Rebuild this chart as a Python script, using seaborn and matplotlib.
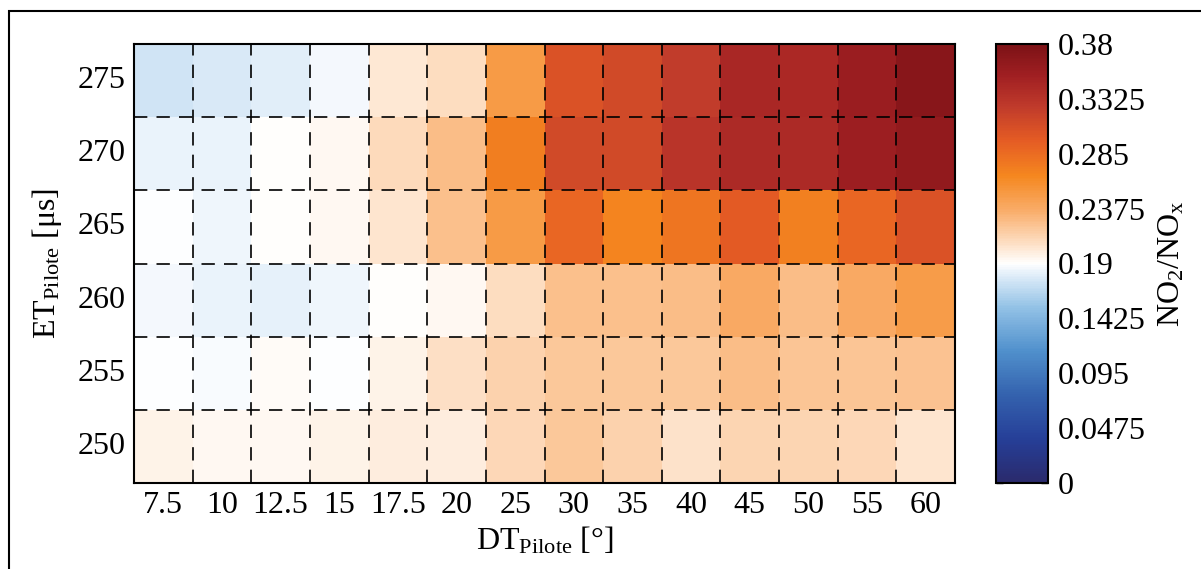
import numpy as np
import pandas as pd
import seaborn as sns
import matplotlib
matplotlib.use("Agg")
import matplotlib.pyplot as plt
from matplotlib.colors import LinearSegmentedColormap
from matplotlib.patches import Rectangle

# Pilot injection timing (DT) and energizing time (ET) grid
dt_labels = ["7.5", "10", "12.5", "15", "17.5", "20", "25", "30",
             "35", "40", "45", "50", "55", "60"]
et_labels = ["275", "270", "265", "260", "255", "250"]

# NO2/NOx ratio, one list per ET row
ratio_275 = [0.175, 0.178, 0.180, 0.187, 0.202, 0.208, 0.250, 0.305, 0.312, 0.325, 0.345, 0.343, 0.357, 0.370]
ratio_270 = [0.183, 0.184, 0.190, 0.194, 0.210, 0.226, 0.272, 0.313, 0.313, 0.332, 0.342, 0.342, 0.355, 0.363]
ratio_265 = [0.189, 0.185, 0.190, 0.194, 0.204, 0.225, 0.250, 0.288, 0.268, 0.279, 0.298, 0.271, 0.288, 0.305]
ratio_260 = [0.187, 0.184, 0.182, 0.185, 0.191, 0.194, 0.208, 0.225, 0.225, 0.227, 0.238, 0.227, 0.238, 0.248]
ratio_255 = [0.189, 0.188, 0.192, 0.189, 0.196, 0.207, 0.214, 0.220, 0.221, 0.221, 0.226, 0.222, 0.222, 0.224]
ratio_250 = [0.197, 0.193, 0.194, 0.197, 0.199, 0.200, 0.211, 0.220, 0.215, 0.205, 0.213, 0.213, 0.211, 0.204]

cbar_ticks = [0, 0.0475, 0.095, 0.1425, 0.19, 0.2375, 0.285, 0.3325, 0.38]
cbar_ticklabels = ["0", "0.0475", "0.095", "0.1425", "0.19", "0.2375", "0.285", "0.3325", "0.38"]

df = pd.DataFrame([ratio_275, ratio_270, ratio_265, ratio_260, ratio_255, ratio_250],
                  index=et_labels, columns=dt_labels)

sns.set_style("white")
plt.rcParams["font.family"] = ["Liberation Serif", "DejaVu Serif"]
plt.rcParams["mathtext.fontset"] = "custom"
plt.rcParams["mathtext.rm"] = "Liberation Serif"
plt.rcParams["mathtext.it"] = "Liberation Serif:italic"
plt.rcParams["mathtext.bf"] = "Liberation Serif:bold"
plt.rcParams["text.color"] = "black"
plt.rcParams["axes.labelcolor"] = "black"
plt.rcParams["xtick.color"] = "black"
plt.rcParams["ytick.color"] = "black"

# diverging blue-white-orange-red map centred on 0.19
cmap = LinearSegmentedColormap.from_list("blue_white_red", [
    (0.00, "#2a2a6c"),
    (0.10, "#263f98"),
    (0.20, "#3462ae"),
    (0.30, "#5090cc"),
    (0.40, "#93c2e6"),
    (0.47, "#dcebf8"),
    (0.50, "#ffffff"),
    (0.55, "#fddcbf"),
    (0.62, "#f9ad6a"),
    (0.70, "#f5871f"),
    (0.78, "#e55c24"),
    (0.86, "#bf3a2b"),
    (0.93, "#a01f22"),
    (1.00, "#7c1216"),
])

W, H = 1201, 569
fig = plt.figure(figsize=(W / 100, H / 100), dpi=100)
ax = fig.add_axes([134 / W, 1 - 483 / H, 821 / W, 439 / H])
cax = fig.add_axes([996 / W, 1 - 483 / H, 52 / W, 439 / H])

sns.heatmap(df, ax=ax, cbar_ax=cax, cmap=cmap, vmin=0, vmax=0.38,
            linewidths=0, cbar_kws={"ticks": cbar_ticks})

fs = 23
# dashed grid on the cell boundaries
n_rows, n_cols = df.shape
for i in range(1, n_cols):
    ax.axvline(i, color="black", lw=1.2, ls=(0, (8.0, 5.5)))
for j in range(1, n_rows):
    ax.axhline(j, color="black", lw=1.2, ls=(0, (8.0, 5.5)))

for s in ax.spines.values():
    s.set_visible(True)
    s.set_linewidth(1.5)
    s.set_color("black")

ax.tick_params(axis="both", which="major", direction="in", length=8, width=1.2,
               color="black", top=True, right=True, labelsize=fs,
               labelcolor="black")
ax.tick_params(axis="x", pad=6)
ax.tick_params(axis="y", pad=6)
ax.set_yticklabels(et_labels, rotation=0)
ax.set_xticklabels(dt_labels, rotation=0)

ax.set_xlabel(r"DT$_{\mathrm{Pilote}}$ [°]", fontsize=fs, labelpad=3)
ax.set_ylabel(r"ET$_{\mathrm{Pilote}}$ [μs]", fontsize=fs, labelpad=10)

cb = ax.collections[0].colorbar
cb.outline.set_linewidth(1.5)
cb.outline.set_edgecolor("black")
cb.set_ticks(cbar_ticks)
cb.set_ticklabels(cbar_ticklabels)
cax.tick_params(direction="in", length=5, width=1.0, left=True, right=True,
                labelsize=fs, pad=7, labelcolor="black")
cb.set_label(r"NO$_{2}$/NO$_{\mathrm{x}}$", fontsize=fs, labelpad=8)

# surrounding frame
fig.patches.append(Rectangle((9 / W, -0.1), 1.2, 1 - 11 / H + 0.1,
                             transform=fig.transFigure, fill=False,
                             lw=1.5, ec="black"))

fig.savefig("out.png", dpi=100)
